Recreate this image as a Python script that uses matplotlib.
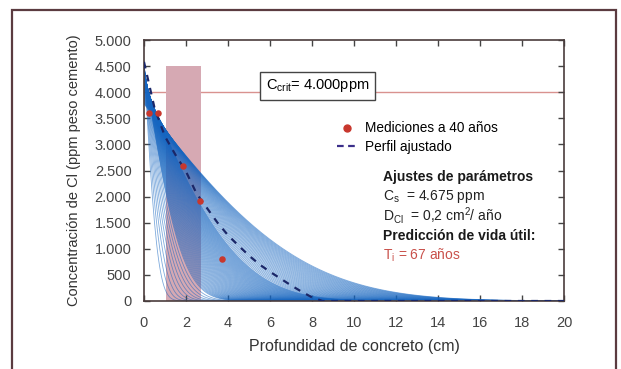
import math
import numpy as np
import matplotlib
matplotlib.use("Agg")
import matplotlib.pyplot as plt
from matplotlib.lines import Line2D
from matplotlib.patches import Rectangle

plt.rcParams['font.family'] = ['Liberation Sans', 'DejaVu Sans']
plt.rcParams['mathtext.default'] = 'regular'

# mediciones a 40 años (cm, ppm)
med_depth = [0.24, 0.65, 1.84, 2.67, 3.70]
med_conc = [3600, 3600, 2590, 1920, 800]

# perfil ajustado
fit_depth = [0, 0.5, 1, 1.5, 2, 2.5, 3, 3.5, 4, 4.5, 5, 5.5, 6, 6.5, 7, 7.5, 8, 8.5, 20]
fit_conc = [4580, 3700, 3150, 2800, 2480, 2060, 1780, 1500, 1260, 1060, 870, 700, 560, 430, 300, 180, 70, 0, 0]

# familia de perfiles: ancho 2*sqrt(D t) en cm, por tramos, y C superficial en los extremos
band_edges = [0.72, 2.0, 5.0, 8.4]
band_counts = [9, 60, 34]
cs_range = [4600, 3775]

c_crit = 4000
zone = [1.05, 2.7, 4500]   # franja rosa: x0, x1, altura

xticks = list(range(0, 21, 2))
yticks = list(range(0, 5001, 500))
ytick_labels = ['0' if v == 0 else '{:,}'.format(v).replace(',', '.') for v in yticks]

fig = plt.figure(figsize=(6.21, 3.69), dpi=100)
fig.patches.append(Rectangle((12 / 621, -0.1), 604 / 621, 1.1 - 10 / 369,
                             transform=fig.transFigure, fill=False,
                             ec='#5b3b40', lw=1.6, zorder=0))
ax = fig.add_axes([144 / 621, 1 - 301 / 369, 420 / 621, 261 / 369])

ax.axhline(c_crit, color='#d9928f', lw=1.0, zorder=0.5)
ax.add_patch(Rectangle((zone[0], 0), zone[1] - zone[0], zone[2],
                       fc='#d6a9b3', ec='none', zorder=1))

# curvas
widths = []
for i in range(len(band_counts)):
    w = np.linspace(band_edges[i], band_edges[i + 1], band_counts[i], endpoint=False)
    widths.extend(w)
widths.append(band_edges[-1])
x = np.linspace(0, 20, 400)
erfc = np.vectorize(math.erfc)
for w in widths:
    frac = (w - band_edges[0]) / (band_edges[-1] - band_edges[0])
    cs = cs_range[0] + (cs_range[1] - cs_range[0]) * frac
    ax.plot(x, cs * erfc(x / w), color='#1565c0', lw=0.6, alpha=0.55, zorder=2)

ax.plot(fit_depth, fit_conc, color='#1b2768', lw=1.6, ls=(0, (3, 3)), zorder=4)
ax.scatter(med_depth, med_conc, s=22, color='#c8372d', zorder=5, lw=0)

ax.text(8.25, c_crit + 120, r'C$_{crit}$= 4.000ppm', fontsize=10.5, ha='center', va='center',
        zorder=6, bbox=dict(boxstyle='square,pad=0.4', fc='white', ec='#444444', lw=1.0))

handles = [Line2D([], [], marker='o', color='#c8372d', ls='none', markersize=5),
           Line2D([], [], color='#3b2f8a', lw=1.6, ls=(0, (3, 2)))]
ax.legend(handles, ['Mediciones a 40 años', 'Perfil ajustado'], loc='upper left',
          bbox_to_anchor=(0.43, 0.735), frameon=False, fontsize=9.8,
          handlelength=1.5, handletextpad=0.6, labelspacing=0.35)

tx = 0.569
ax.text(tx, 0.475, 'Ajustes de parámetros', transform=ax.transAxes, fontsize=10,
        fontweight='bold', va='center', color='#1a1a1a')
ax.text(tx, 0.402, r'C$_{s}$  = 4.675 ppm', transform=ax.transAxes, fontsize=10,
        va='center', color='#222222')
ax.text(tx, 0.326, r'D$_{Cl}$  = 0,2 cm$^{2}$/ año', transform=ax.transAxes, fontsize=10,
        va='center', color='#222222')
ax.text(tx, 0.249, 'Predicción de vida útil:', transform=ax.transAxes, fontsize=10,
        fontweight='bold', va='center', color='#1a1a1a')
ax.text(tx, 0.176, r'T$_{i}$ = 67 años', transform=ax.transAxes, fontsize=10,
        va='center', color='#c9504a')

ax.set_xlim(0, 20)
ax.set_ylim(0, 5000)
ax.set_xticks(xticks)
ax.set_yticks(yticks)
ax.set_yticklabels(ytick_labels)
ax.tick_params(direction='in', length=4, width=1, colors='#444444', labelcolor='#444444',
               top=True, right=True, labelsize=10.5)
ax.tick_params(axis='x', pad=11)
ax.tick_params(axis='y', pad=9)
for s in ax.spines.values():
    s.set_color('#4a3c3c')
    s.set_linewidth(1.2)

ax.set_xlabel('Profundidad de concreto (cm)', fontsize=11.5, color='#333333', labelpad=6)
ax.set_ylabel('Concentración de Cl (ppm peso cemento)', fontsize=10.5, color='#333333', labelpad=10)

fig.savefig('out.png', dpi=100)
